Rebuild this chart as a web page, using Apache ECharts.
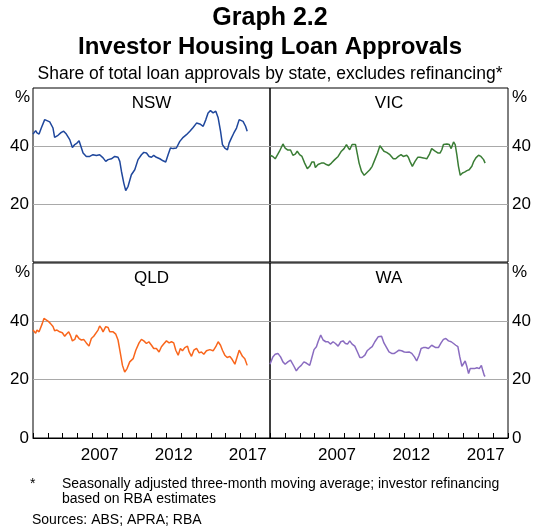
<!DOCTYPE html>
<html>
<head>
<meta charset="utf-8">
<script src="https://cdn.jsdelivr.net/npm/echarts@6/dist/echarts.min.js"></script>
<style>
  html, body { margin: 0; padding: 0; background: #fff; }
  #chart { width: 539px; height: 530px; }
</style>
</head>
<body>
<div id="chart"></div>
<script>
// Investor housing loan approvals, share of total by state (%)
const yearCats = ['2003', '2004', '2005', '2006', '2007', '2008', '2009', '2010',
  '2011', '2012', '2013', '2014', '2015', '2016', '2017', '2018'];
const shownYears = ['2007', '2012', '2017'];
const yTicks = [20, 40];

const nswX = [2003.00, 2003.18, 2003.27, 2003.41, 2003.56, 2003.79, 2003.90, 2004.13, 2004.24, 2004.35,
  2004.46, 2004.69, 2004.91, 2005.07, 2005.25, 2005.48, 2005.66, 2005.82, 2005.97, 2006.11,
  2006.27, 2006.38, 2006.60, 2006.83, 2007.05, 2007.28, 2007.50, 2007.73, 2007.91, 2008.07,
  2008.29, 2008.52, 2008.74, 2008.86, 2008.97, 2009.13, 2009.26, 2009.42, 2009.64, 2009.87,
  2010.09, 2010.32, 2010.48, 2010.66, 2010.84, 2011.00, 2011.15, 2011.33, 2011.56, 2011.78,
  2011.96, 2012.12, 2012.28, 2012.46, 2012.68, 2012.91, 2013.14, 2013.36, 2013.59, 2013.81,
  2014.04, 2014.26, 2014.49, 2014.67, 2014.82, 2014.98, 2015.16, 2015.34, 2015.50, 2015.66,
  2015.79, 2015.95, 2016.13, 2016.24, 2016.40, 2016.56, 2016.74, 2016.92, 2017.03, 2017.18,
  2017.35, 2017.46];
const nswY = [44.1, 45.3, 44.5, 44.1, 46.2, 49.1, 49.7, 48.3, 47.9, 46.2,
  43.0, 43.7, 44.7, 45.1, 44.1, 42.2, 39.5, 40.5, 41.0, 41.8,
  39.3, 37.6, 36.4, 36.4, 37.0, 36.7, 37.0, 35.9, 34.7, 35.3,
  35.6, 36.4, 36.1, 34.7, 31.3, 27.2, 24.6, 26.1, 30.1, 31.8,
  35.3, 37.0, 37.8, 37.6, 36.4, 36.1, 36.8, 36.1, 35.6, 34.9,
  34.5, 37.0, 39.3, 39.1, 39.3, 41.6, 43.0, 43.9, 45.1, 46.4,
  47.9, 47.6, 46.8, 49.1, 51.4, 52.2, 51.4, 52.0, 49.7, 45.1,
  40.5, 39.3, 38.7, 41.0, 42.8, 44.5, 46.2, 49.1, 49.4, 48.5,
  46.8, 45.1];

const vicX = [2003.00, 2003.19, 2003.35, 2003.48, 2003.64, 2003.87, 2004.02, 2004.20, 2004.38, 2004.54,
  2004.70, 2004.83, 2004.99, 2005.15, 2005.33, 2005.51, 2005.67, 2005.82, 2005.96, 2006.05,
  2006.23, 2006.45, 2006.63, 2006.79, 2006.95, 2007.13, 2007.35, 2007.58, 2007.80, 2007.98,
  2008.14, 2008.25, 2008.36, 2008.52, 2008.75, 2008.88, 2008.99, 2009.15, 2009.33, 2009.49,
  2009.71, 2009.87, 2010.05, 2010.23, 2010.39, 2010.50, 2010.66, 2010.84, 2011.06, 2011.29,
  2011.45, 2011.63, 2011.81, 2011.96, 2012.19, 2012.30, 2012.41, 2012.57, 2012.75, 2012.93,
  2013.09, 2013.31, 2013.54, 2013.72, 2013.87, 2013.99, 2014.10, 2014.28, 2014.44, 2014.55,
  2014.66, 2014.89, 2015.05, 2015.18, 2015.34, 2015.45, 2015.56, 2015.67, 2015.79, 2015.94,
  2016.08, 2016.24, 2016.39, 2016.57, 2016.68, 2016.84, 2017.02, 2017.18, 2017.36, 2017.46];
const vicY = [36.8, 36.4, 35.6, 35.3, 38.2, 40.7, 39.3, 38.6, 38.6, 36.8,
  37.2, 38.2, 37.0, 36.4, 34.1, 32.2, 33.0, 34.5, 34.5, 32.6,
  33.6, 34.1, 34.1, 33.6, 33.3, 34.1, 35.3, 36.4, 38.2, 39.1,
  40.5, 39.5, 38.7, 40.5, 40.5, 37.0, 34.1, 31.3, 29.9, 30.7,
  31.8, 33.0, 35.3, 37.6, 40.1, 40.1, 38.2, 37.8, 37.0, 35.6,
  35.6, 36.4, 37.0, 36.4, 36.8, 36.1, 34.7, 33.0, 34.7, 36.1,
  36.1, 35.9, 35.6, 37.2, 39.1, 39.5, 38.2, 37.6, 37.6, 38.7,
  40.5, 40.7, 40.5, 39.1, 41.4, 40.5, 37.0, 33.0, 29.9, 30.7,
  31.0, 31.5, 31.8, 33.0, 34.5, 35.9, 36.8, 36.4, 35.3, 34.1];

const qldX = [2003.00, 2003.11, 2003.18, 2003.27, 2003.41, 2003.50, 2003.63, 2003.74, 2003.86, 2004.01,
  2004.17, 2004.35, 2004.46, 2004.62, 2004.80, 2004.98, 2005.14, 2005.25, 2005.41, 2005.52,
  2005.66, 2005.82, 2005.93, 2006.11, 2006.27, 2006.42, 2006.60, 2006.78, 2006.94, 2007.10,
  2007.23, 2007.39, 2007.50, 2007.62, 2007.73, 2007.91, 2008.07, 2008.18, 2008.41, 2008.59,
  2008.74, 2008.90, 2009.04, 2009.19, 2009.35, 2009.53, 2009.76, 2009.94, 2010.16, 2010.32,
  2010.48, 2010.66, 2010.82, 2011.00, 2011.15, 2011.33, 2011.51, 2011.67, 2011.85, 2012.01,
  2012.19, 2012.35, 2012.50, 2012.64, 2012.80, 2012.95, 2013.09, 2013.25, 2013.43, 2013.54,
  2013.70, 2013.86, 2014.04, 2014.22, 2014.37, 2014.53, 2014.71, 2014.94, 2015.16, 2015.34,
  2015.50, 2015.66, 2015.79, 2015.95, 2016.11, 2016.29, 2016.45, 2016.63, 2016.78, 2016.92,
  2017.03, 2017.14, 2017.30, 2017.46];
const qldY = [37.0, 37.2, 35.9, 37.0, 36.4, 36.8, 39.3, 41.0, 40.5, 40.1,
  39.3, 38.2, 36.8, 37.0, 36.4, 36.1, 34.9, 35.6, 36.4, 35.3,
  33.3, 33.8, 35.3, 34.1, 33.6, 33.8, 32.6, 31.5, 34.1, 34.9,
  34.9, 37.0, 38.4, 37.6, 36.4, 38.2, 37.9, 36.4, 36.4, 35.6,
  33.6, 29.0, 24.9, 22.6, 23.8, 26.1, 27.2, 30.1, 32.6, 33.8,
  33.3, 32.4, 33.0, 31.8, 30.7, 30.7, 29.5, 31.3, 32.4, 33.3,
  32.6, 33.0, 32.6, 30.1, 28.4, 30.7, 29.9, 31.0, 31.5, 29.5,
  28.0, 30.1, 30.7, 29.2, 29.5, 28.7, 29.9, 30.3, 29.9, 31.3,
  33.0, 31.8, 30.1, 28.4, 27.6, 28.0, 26.9, 25.3, 27.8, 30.1,
  29.9, 28.0, 27.2, 24.9];

const waX = [2003.00, 2003.19, 2003.35, 2003.53, 2003.71, 2003.87, 2004.02, 2004.20, 2004.38, 2004.47,
  2004.61, 2004.77, 2004.92, 2005.10, 2005.28, 2005.44, 2005.55, 2005.67, 2005.78, 2005.96,
  2006.12, 2006.23, 2006.41, 2006.57, 2006.75, 2006.90, 2007.06, 2007.24, 2007.40, 2007.58,
  2007.76, 2007.91, 2008.07, 2008.21, 2008.36, 2008.52, 2008.70, 2008.88, 2009.04, 2009.19,
  2009.38, 2009.53, 2009.71, 2009.87, 2010.05, 2010.27, 2010.50, 2010.66, 2010.84, 2011.00,
  2011.18, 2011.36, 2011.51, 2011.67, 2011.85, 2012.03, 2012.19, 2012.35, 2012.53, 2012.71,
  2012.86, 2013.02, 2013.16, 2013.31, 2013.47, 2013.65, 2013.76, 2013.87, 2013.99, 2014.14,
  2014.32, 2014.50, 2014.66, 2014.82, 2015.00, 2015.18, 2015.34, 2015.49, 2015.63, 2015.76,
  2015.90, 2016.01, 2016.12, 2016.24, 2016.35, 2016.46, 2016.58, 2016.75, 2016.91, 2017.07,
  2017.21, 2017.30, 2017.40, 2017.46];
const waY = [25.3, 27.8, 28.7, 29.0, 27.8, 26.1, 25.3, 26.1, 26.7, 26.9,
  24.6, 23.0, 24.1, 24.9, 26.1, 25.7, 25.3, 24.9, 26.9, 30.3,
  31.3, 33.0, 35.3, 33.6, 33.0, 33.0, 32.2, 33.0, 32.4, 31.5,
  33.0, 33.3, 32.4, 32.2, 33.3, 32.2, 31.5, 29.5, 27.6, 27.6,
  28.4, 29.9, 30.7, 31.3, 33.0, 34.7, 34.9, 32.6, 31.0, 29.5,
  29.0, 29.0, 29.5, 30.1, 29.9, 29.5, 29.4, 29.5, 29.0, 27.8,
  26.4, 28.4, 30.7, 31.0, 31.0, 30.7, 31.0, 31.8, 32.2, 31.0,
  31.0, 32.6, 33.8, 34.1, 33.3, 33.0, 32.4, 31.8, 31.3, 27.8,
  24.6, 24.9, 26.4, 24.4, 22.1, 23.8, 24.1, 23.8, 24.1, 23.8,
  24.9, 23.2, 21.5, 21.1];

const FONT = "'Liberation Sans', Arial, sans-serif";

const panels = [
  { name: 'NSW', x: nswX, y: nswY, color: '#1f479c', left: 33, top: 88, width: 237, height: 174, side: 'left', bottom: false },
  { name: 'VIC', x: vicX, y: vicY, color: '#3a7d35', left: 270, top: 88, width: 238, height: 174, side: 'right', bottom: false },
  { name: 'QLD', x: qldX, y: qldY, color: '#f9661c', left: 33, top: 263, width: 237, height: 175, side: 'left', bottom: true },
  { name: 'WA', x: waX, y: waY, color: '#8a6cc0', left: 270, top: 263, width: 238, height: 175, side: 'right', bottom: true },
];

const zip = (xs, ys) => xs.map((x, i) => [x, ys[i]]);

const grid = panels.map((p) => ({
  left: p.left, top: p.top, width: p.width, height: p.height,
  show: true, borderColor: '#000', borderWidth: 1, backgroundColor: 'transparent',
}));

// hidden value axes carry the data, category axes draw year ticks/labels
const xAxis = panels.map((p, i) => ({
  type: 'value', gridIndex: i, min: 2003, max: 2019, show: false,
}));
panels.forEach((p, i) => {
  if (!p.bottom) return;
  xAxis.push({
    type: 'category', gridIndex: i, data: yearCats, boundaryGap: true, position: 'bottom',
    axisLine: { show: true, lineStyle: { color: '#000', width: 1 } },
    axisTick: { show: true, inside: true, length: 5, interval: 0, lineStyle: { color: '#000' } },
    axisLabel: {
      interval: (idx, val) => shownYears.includes(val),
      color: '#000', fontSize: 17, fontFamily: FONT, margin: 9,
    },
    splitLine: { show: false },
  });
});

const yAxis = panels.map((p, i) => ({
  type: 'value', gridIndex: i, min: 0, max: 60, interval: 20, position: p.side,
  axisLine: { show: false },
  axisTick: { show: false },
  axisLabel: {
    color: '#000', fontSize: 17, fontFamily: FONT, margin: 4,
    formatter: (v) => (yTicks.includes(v) || (p.bottom && v === 0) ? String(v) : ''),
  },
  splitLine: { show: true, showMinLine: false, showMaxLine: false, lineStyle: { color: '#a9a9a9', width: 1 } },
}));

const series = panels.map((p, i) => ({
  name: p.name, type: 'line', xAxisIndex: i, yAxisIndex: i,
  data: zip(p.x, p.y), showSymbol: false, symbol: 'none',
  lineStyle: { color: p.color, width: 1.5 }, itemStyle: { color: p.color },
  z: 3,
}));

function txt(x, y, text, size, opts = {}) {
  return {
    type: 'text', x, y, silent: true,
    style: {
      text, fill: '#000', font: `${opts.bold ? 'bold ' : ''}${size}px ${FONT}`,
      textAlign: opts.align || 'center', align: opts.align || 'center',
      textVerticalAlign: 'middle', verticalAlign: 'middle',
    },
  };
}

const graphic = [
  txt(270, 18, 'Graph 2.2', 25, { bold: true }),
  txt(270, 47, 'Investor Housing Loan Approvals', 24, { bold: true }),
  txt(270, 74, 'Share of total loan approvals by state, excludes refinancing*', 17.5),
  txt(30, 97, '%', 17, { align: 'right' }),
  txt(512, 97, '%', 17, { align: 'left' }),
  txt(30, 272, '%', 17, { align: 'right' }),
  txt(512, 272, '%', 17, { align: 'left' }),
  txt(30, 484, '*', 14, { align: 'left' }),
  txt(62, 484, 'Seasonally adjusted three-month moving average; investor refinancing', 14, { align: 'left' }),
  txt(62, 499, 'based on RBA estimates', 14, { align: 'left' }),
  txt(32, 520, 'Sources: ABS; APRA; RBA', 14, { align: 'left' }),
];
panels.forEach((p) => {
  graphic.push(txt(p.left + p.width / 2, p.top + 15, p.name, 17));
});

const chart = echarts.init(document.getElementById('chart'), null, { renderer: 'canvas' });
chart.setOption({
  animation: false,
  backgroundColor: '#fff',
  textStyle: { fontFamily: FONT },
  grid, xAxis, yAxis, series, graphic,
});
</script>
</body>
</html>
